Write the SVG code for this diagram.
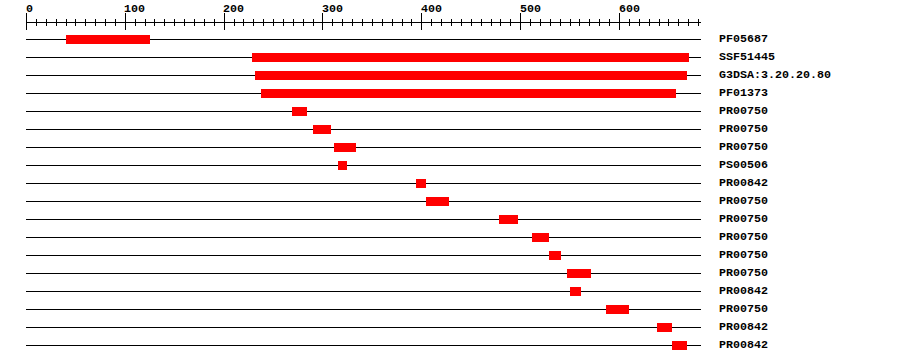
<svg xmlns="http://www.w3.org/2000/svg" width="900" height="364" viewBox="0 0 900 364">
<style>
.t{font-family:"Liberation Mono","DejaVu Sans Mono",monospace;font-weight:bold;font-size:11.67px;fill:#000}
.ln{stroke:#000;stroke-width:1;fill:none}
.bar{fill:#ff0000}
</style>
<rect width="900" height="364" fill="#fff"/>
<g id="ruler">
<path class="ln" d="M26,22.5H701"/>
<path class="ln" d="M26.5,13V30M125.5,13V30M224.5,13V30M322.5,13V30M421.5,13V30M520.5,13V30M619.5,13V30"/>
<path class="ln" d="M36.5,19V26M46.5,19V26M56.5,19V26M66.5,19V26M75.5,19V26M85.5,19V26M95.5,19V26M105.5,19V26M115.5,19V26M135.5,19V26M145.5,19V26M154.5,19V26M164.5,19V26M174.5,19V26M184.5,19V26M194.5,19V26M204.5,19V26M214.5,19V26M234.5,19V26M243.5,19V26M253.5,19V26M263.5,19V26M273.5,19V26M283.5,19V26M293.5,19V26M303.5,19V26M313.5,19V26M332.5,19V26M342.5,19V26M352.5,19V26M362.5,19V26M372.5,19V26M382.5,19V26M392.5,19V26M402.5,19V26M411.5,19V26M431.5,19V26M441.5,19V26M451.5,19V26M461.5,19V26M471.5,19V26M481.5,19V26M491.5,19V26M500.5,19V26M510.5,19V26M530.5,19V26M540.5,19V26M550.5,19V26M560.5,19V26M570.5,19V26M579.5,19V26M589.5,19V26M599.5,19V26M609.5,19V26M629.5,19V26M639.5,19V26M649.5,19V26M659.5,19V26M668.5,19V26M678.5,19V26M688.5,19V26M698.5,19V26"/>
<text class="t" x="26" y="12">0</text>
<text class="t" x="124" y="12">100</text>
<text class="t" x="223" y="12">200</text>
<text class="t" x="322" y="12">300</text>
<text class="t" x="421" y="12">400</text>
<text class="t" x="520" y="12">500</text>
<text class="t" x="619" y="12">600</text>
</g>
<g id="connectors"></g>
<g id="row1"><path class="ln" d="M26,39.5H701"/><rect class="bar" x="66" y="35" width="84" height="9"/><text class="t" x="719" y="42">PF05687</text></g>
<g id="row2"><path class="ln" d="M26,57.5H701"/><rect class="bar" x="252" y="53" width="437" height="9"/><text class="t" x="719" y="60">SSF51445</text></g>
<g id="row3"><path class="ln" d="M26,75.5H701"/><rect class="bar" x="255" y="71" width="432" height="9"/><text class="t" x="719" y="78">G3DSA:3.20.20.80</text></g>
<g id="row4"><path class="ln" d="M26,93.5H701"/><rect class="bar" x="261" y="89" width="415" height="9"/><text class="t" x="719" y="96">PF01373</text></g>
<g id="row5"><path class="ln" d="M26,111.5H701"/><rect class="bar" x="292" y="107" width="15" height="9"/><text class="t" x="719" y="114">PR00750</text></g>
<g id="row6"><path class="ln" d="M26,129.5H701"/><rect class="bar" x="313" y="125" width="18" height="9"/><text class="t" x="719" y="132">PR00750</text></g>
<g id="row7"><path class="ln" d="M26,147.5H701"/><rect class="bar" x="334" y="143" width="22" height="9"/><text class="t" x="719" y="150">PR00750</text></g>
<g id="row8"><path class="ln" d="M26,165.5H701"/><rect class="bar" x="338" y="161" width="9" height="9"/><text class="t" x="719" y="168">PS00506</text></g>
<g id="row9"><path class="ln" d="M26,183.5H701"/><rect class="bar" x="416" y="179" width="10" height="9"/><text class="t" x="719" y="186">PR00842</text></g>
<g id="row10"><path class="ln" d="M26,201.5H701"/><rect class="bar" x="426" y="197" width="23" height="9"/><text class="t" x="719" y="204">PR00750</text></g>
<g id="row11"><path class="ln" d="M26,219.5H701"/><rect class="bar" x="499" y="215" width="19" height="9"/><text class="t" x="719" y="222">PR00750</text></g>
<g id="row12"><path class="ln" d="M26,237.5H701"/><rect class="bar" x="532" y="233" width="17" height="9"/><text class="t" x="719" y="240">PR00750</text></g>
<g id="row13"><path class="ln" d="M26,255.5H701"/><rect class="bar" x="549" y="251" width="12" height="9"/><text class="t" x="719" y="258">PR00750</text></g>
<g id="row14"><path class="ln" d="M26,273.5H701"/><rect class="bar" x="567" y="269" width="24" height="9"/><text class="t" x="719" y="276">PR00750</text></g>
<g id="row15"><path class="ln" d="M26,291.5H701"/><rect class="bar" x="570" y="287" width="11" height="9"/><text class="t" x="719" y="294">PR00842</text></g>
<g id="row16"><path class="ln" d="M26,309.5H701"/><rect class="bar" x="606" y="305" width="23" height="9"/><text class="t" x="719" y="312">PR00750</text></g>
<g id="row17"><path class="ln" d="M26,327.5H701"/><rect class="bar" x="657" y="323" width="15" height="9"/><text class="t" x="719" y="330">PR00842</text></g>
<g id="row18"><path class="ln" d="M26,345.5H701"/><rect class="bar" x="672" y="341" width="15" height="9"/><text class="t" x="719" y="348">PR00842</text></g>
</svg>
